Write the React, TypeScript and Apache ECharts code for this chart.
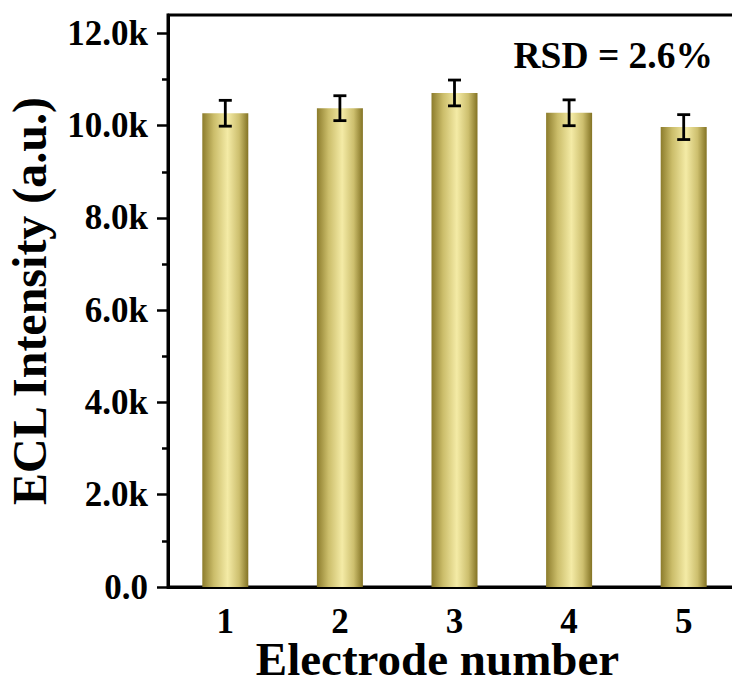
import React, { useEffect, useRef } from "react";
import * as echarts from "echarts";

const categories = ["1", "2", "3", "4", "5"];
const intensities = [10270, 10380, 10710, 10280, 9970];
const errors = [280, 270, 280, 280, 270];
const majorTicks = [0, 2000, 4000, 6000, 8000, 10000, 12000];
const minorTicks = [1000, 3000, 5000, 7000, 9000, 11000];
const annotation = "RSD = 2.6%";

const FONT = '"Times New Roman", "Liberation Serif", serif';

export default function App() {
  const ref = useRef<HTMLDivElement>(null);
  useEffect(() => {
    if (!ref.current) return;
    const chart = echarts.init(ref.current, null, { renderer: "svg" });
    const barColor = new echarts.graphic.LinearGradient(0, 0, 1, 0, [
      { offset: 0, color: "#8c7c2c" },
      { offset: 0.25, color: "#cbbd6a" },
      { offset: 0.55, color: "#f4eba6" },
      { offset: 0.8, color: "#cdbf6e" },
      { offset: 1, color: "#837324" },
    ]);
    chart.setOption({
      animation: false,
      backgroundColor: "#ffffff",
      grid: {
        left: 168,
        right: -9,
        top: 15,
        bottom: 102,
        containLabel: false,
        outerBoundsMode: "none",
        show: true,
        borderColor: "#000",
        borderWidth: 3,
        backgroundColor: "transparent",
      },
      xAxis: [
        {
          type: "category",
          data: categories,
          position: "bottom",
          boundaryGap: true,
          name: "Electrode number",
          nameLocation: "middle",
          nameGap: 48,
          nameMoveOverlap: false,
          nameTextStyle: {
            fontFamily: FONT,
            fontWeight: "bold",
            fontSize: 47,
            color: "#000",
            padding: [0, 34, 0, 0],
          },
          axisLine: { onZero: false, lineStyle: { color: "#000", width: 3 } },
          axisTick: { alignWithLabel: true, inside: false, length: 9, lineStyle: { color: "#000", width: 2 } },
          axisLabel: { margin: 17, fontFamily: FONT, fontWeight: "bold", fontSize: 35, color: "#000" },
          splitLine: { show: false },
        },
      ],
      yAxis: [
        {
          type: "value",
          min: 0,
          max: 12400,
          interval: 2000,
          position: "left",
          name: "ECL Intensity (a.u.)",
          nameLocation: "middle",
          nameRotate: 90,
          nameGap: 115,
          nameMoveOverlap: false,
          nameTextStyle: { fontFamily: FONT, fontWeight: "bold", fontSize: 48, color: "#000" },
          axisLine: { show: true, onZero: false, lineStyle: { color: "#000", width: 3 } },
          axisTick: { show: true, inside: false, length: 11, customValues: majorTicks, lineStyle: { color: "#000", width: 2.5 } },
          axisLabel: {
            margin: 20,
            customValues: majorTicks,
            fontFamily: FONT,
            fontWeight: "bold",
            fontSize: 35,
            color: "#000",
            formatter: (v: number) => (v === 0 ? "0.0" : (v / 1000).toFixed(1) + "k"),
          },
          splitLine: { show: false },
        },
        {
          type: "value",
          min: 0,
          max: 12400,
          interval: 2000,
          position: "left",
          axisLine: { show: false },
          axisTick: { show: true, inside: false, length: 6, customValues: minorTicks, lineStyle: { color: "#000", width: 2.5 } },
          axisLabel: { show: false },
          splitLine: { show: false },
        },
      ],
      series: [
        {
          type: "bar",
          xAxisIndex: 0,
          yAxisIndex: 0,
          data: intensities,
          barWidth: 46,
          itemStyle: { color: barColor },
        },
        {
          type: "custom",
          xAxisIndex: 0,
          yAxisIndex: 0,
          data: intensities.map((v, i) => [i, v, errors[i]]),
          renderItem: (params: any, api: any) => {
            const x = api.value(0);
            const v = api.value(1);
            const e = api.value(2);
            const top = api.coord([x, v + e]);
            const bot = api.coord([x, v - e]);
            const hw = 6.5;
            const style = { stroke: "#000", lineWidth: 2.8 };
            return {
              type: "group",
              children: [
                { type: "line", shape: { x1: top[0], y1: top[1], x2: bot[0], y2: bot[1] }, style },
                { type: "line", shape: { x1: top[0] - hw, y1: top[1], x2: top[0] + hw, y2: top[1] }, style },
                { type: "line", shape: { x1: bot[0] - hw, y1: bot[1], x2: bot[0] + hw, y2: bot[1] }, style },
              ],
            };
          },
          z: 5,
        },
      ],
      graphic: [
        {
          type: "text",
          x: 713,
          y: 55,
          style: {
            text: annotation,
            fontFamily: FONT,
            fontWeight: "bold",
            fontSize: 37.5,
            fill: "#000",
            textAlign: "right",
            textVerticalAlign: "middle",
          },
        },
      ],
    });
    return () => chart.dispose();
  }, []);
  return (
    <div
      ref={ref}
      style={{ position: "absolute", left: 0, top: 0, width: 732, height: 689 }}
    />
  );
}
